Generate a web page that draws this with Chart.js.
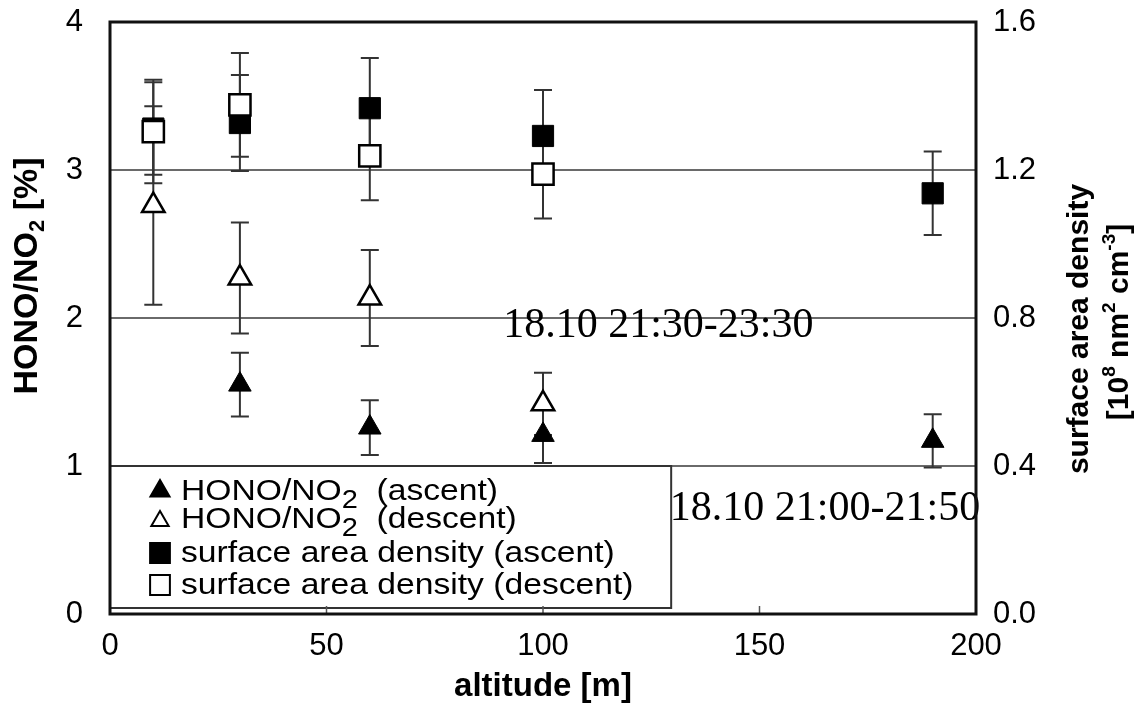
<!DOCTYPE html>
<html>
<head>
<meta charset="utf-8">
<script src="https://cdn.jsdelivr.net/npm/chart.js@4.4.0/dist/chart.umd.min.js"></script>
<style>
    body { margin: 0; background: #fff; }
    .chart-box { width: 1145px; height: 712px; }
</style>
</head>
<body>
<div class="chart-box"><canvas class="hono-chart"></canvas></div>
<script>
const altitudes = [10, 30, 60, 100, 190]

// HONO/NO2 in %, left axis
const honoAscent = [null, 1.55, 1.26, 1.21, 1.17]
const honoAscentErr = [null, 0.215, 0.185, 0.19, 0.18]
const honoDescent = [2.76, 2.27, 2.135, 1.42, null]
const honoDescentErr = [0.67, 0.375, 0.325, 0.21, null]

// surface area density in 10^8 nm2 cm-3, right axis
const surfaceAscent = [1.312, 1.327, 1.367, 1.292, 1.137]
const surfaceAscentErr = [0.125, 0.13, 0.136, 0.124, 0.113]
const surfaceDescent = [1.304, 1.376, 1.238, 1.189, null]
const surfaceDescentErr = [0.14, 0.14, 0.12, 0.12, null]

const xTicks = [0, 50, 100, 150, 200]
const leftTicks = [0, 1, 2, 3, 4]
const rightTicks = [0, 0.4, 0.8, 1.2, 1.6]

const legendLabels = [
    "HONO/NO_{2}  (ascent)",
    "HONO/NO_{2}  (descent)",
    "surface area density (ascent)",
    "surface area density (descent)"
]
const noteLabels = ["18.10 21:30-23:30", "18.10 21:00-21:50"]

const sans = "'Liberation Sans', Arial, sans-serif"
const serif = "'Liberation Serif', 'Times New Roman', serif"

function makePoints(values, errs) {
    return altitudes
        .map((x, i) => ({ x: x, y: values[i], err: errs[i] }))
        .filter(p => p.y != null)
}

// splits "a_{b}c^{d}" into drawable pieces
function toParts(str, size, weight, smallScale, subShift, supShift) {
    const parts = []
    const re = /([_^])\{([^}]*)\}/g
    let last = 0
    let m
    while ((m = re.exec(str))) {
        if (m.index > last) parts.push({ text: str.slice(last, m.index), font: `${weight} ${size}px ${sans}`, dy: 0 })
        const small = Math.round(size * smallScale)
        parts.push({ text: m[2], font: `${weight} ${small}px ${sans}`, dy: m[1] == "_" ? subShift : -supShift })
        last = re.lastIndex
    }
    if (last < str.length) parts.push({ text: str.slice(last), font: `${weight} ${size}px ${sans}`, dy: 0 })
    return parts
}

function drawRich(ctx, parts, x, y, angle, stretch, align, baseline) {
    ctx.save()
    ctx.translate(x, y)
    ctx.rotate(angle)
    ctx.scale(stretch, 1)
    ctx.fillStyle = "#000"
    ctx.textAlign = "left"
    ctx.textBaseline = baseline
    let total = 0
    parts.forEach(p => {
        ctx.font = p.font
        p.w = ctx.measureText(p.text).width
        total += p.w
    })
    let cx = align == "center" ? -total / 2 : 0
    parts.forEach(p => {
        ctx.font = p.font
        ctx.fillText(p.text, cx, p.dy)
        cx += p.w
    })
    ctx.restore()
}

const markerStyles = [
    { pointStyle: "triangle", radius: 11, fill: "#000" },
    { pointStyle: "triangle", radius: 10, fill: "#fff" },
    { pointStyle: "rect", radius: 14, fill: "#000" },
    { pointStyle: "rect", radius: 14, fill: "#fff" }
]

const errorBars = {
    id: "errorBars",
    beforeDatasetsDraw(chart) {
        const ctx = chart.ctx
        const xScale = chart.scales.x
        ctx.save()
        ctx.strokeStyle = "#333"
        ctx.lineWidth = 2
        chart.data.datasets.forEach(ds => {
            const yScale = chart.scales[ds.yAxisID]
            ds.data.forEach(p => {
                if (p.err == null) return
                const px = xScale.getPixelForValue(p.x)
                const top = yScale.getPixelForValue(p.y + p.err)
                const bottom = yScale.getPixelForValue(p.y - p.err)
                ctx.beginPath()
                ctx.moveTo(px, top)
                ctx.lineTo(px, bottom)
                ctx.moveTo(px - 9, top)
                ctx.lineTo(px + 9, top)
                ctx.moveTo(px - 9, bottom)
                ctx.lineTo(px + 9, bottom)
                ctx.stroke()
            })
        })
        ctx.restore()
    }
}

const boxLegend = {
    id: "boxLegend",
    afterDatasetsDraw(chart) {
        const ctx = chart.ctx
        const area = chart.chartArea
        const left = area.left
        const top = chart.scales.y.getPixelForValue(1)
        const right = chart.scales.x.getPixelForValue(129.6)
        const bottom = area.bottom - 6
        ctx.save()
        ctx.fillStyle = "#fff"
        ctx.fillRect(left, top, right - left, bottom - top)
        ctx.strokeStyle = "#333"
        ctx.lineWidth = 2
        ctx.strokeRect(left, top, right - left, bottom - top)

        const baselines = [top + 34, top + 62, top + 96, top + 128]
        const symbolY = [top + 25, top + 55, top + 87, top + 119]
        legendLabels.forEach((label, i) => {
            const st = markerStyles[i]
            ctx.fillStyle = st.fill
            ctx.strokeStyle = "#000"
            ctx.lineWidth = 2
            Chart.helpers.drawPoint(ctx, { pointStyle: st.pointStyle, radius: st.radius, borderWidth: 2, rotation: 0 }, left + 50, symbolY[i])
            drawRich(ctx, toParts(label, 29, "normal", 0.85, 8, 10), left + 71, baselines[i], 0, 1.16, "left", "alphabetic")
        })
        ctx.restore()
    }
}

const frameAndText = {
    id: "frameAndText",
    afterDraw(chart) {
        const ctx = chart.ctx
        const area = chart.chartArea
        const xScale = chart.scales.x
        const yScale = chart.scales.y
        ctx.save()

        // the two time notes
        const spots = [{ x: 90.8, y: 1.87 }, { x: 129.3, y: 0.635 }]
        ctx.font = `42px ${serif}`
        ctx.fillStyle = "#000"
        ctx.textAlign = "left"
        ctx.textBaseline = "alphabetic"
        noteLabels.forEach((note, i) => {
            ctx.fillText(note, xScale.getPixelForValue(spots[i].x), yScale.getPixelForValue(spots[i].y))
        })

        // small inner ticks on the bottom axis
        ctx.strokeStyle = "#555"
        ctx.lineWidth = 1.5
        xTicks.slice(1, -1).forEach(v => {
            const px = xScale.getPixelForValue(v)
            ctx.beginPath()
            ctx.moveTo(px, area.bottom)
            ctx.lineTo(px, area.bottom - 8)
            ctx.stroke()
        })

        ctx.strokeStyle = "#111"
        ctx.lineWidth = 3
        ctx.strokeRect(area.left, area.top, area.right - area.left, area.bottom - area.top)

        // axis titles with sub/superscripts
        drawRich(ctx, toParts("HONO/NO_{2} [%]", 34, "bold", 0.65, 10, 10), 28, 276, -Math.PI / 2, 1, "center", "middle")
        drawRich(ctx, toParts("surface area density", 30, "bold", 0.65, 9, 10), 1080, 329, -Math.PI / 2, 1, "center", "middle")
        drawRich(ctx, toParts("[10^{8} nm^{2} cm^{-3}]", 30, "bold", 0.62, 9, 10), 1120, 322, -Math.PI / 2, 1, "center", "middle")
        ctx.restore()
    }
}

const tickFont = { family: sans, size: 31 }

// fixed axis sizes so the plot box sits where the original one does
function fixVertical(width) {
    return axis => {
        axis.width = width
        axis.paddingTop = 0
        axis.paddingBottom = 0
    }
}

const chartEl = document.querySelector(".hono-chart")
const honoChart = new Chart(chartEl.getContext("2d"), {
    type: "scatter",
    data: {
        datasets: [
            {
                label: "surface area density (descent)",
                data: makePoints(surfaceDescent, surfaceDescentErr),
                yAxisID: "y1",
                pointStyle: "rect",
                pointRadius: 15,
                backgroundColor: "#fff",
                borderColor: "#000",
                borderWidth: 2.5
            },
            {
                label: "surface area density (ascent)",
                data: makePoints(surfaceAscent, surfaceAscentErr),
                yAxisID: "y1",
                pointStyle: "rect",
                pointRadius: 15,
                backgroundColor: "#000",
                borderColor: "#000",
                borderWidth: 1
            },
            {
                label: "HONO/NO2 (descent)",
                data: makePoints(honoDescent, honoDescentErr),
                yAxisID: "y",
                pointStyle: "triangle",
                pointRadius: 13,
                backgroundColor: "#fff",
                borderColor: "#000",
                borderWidth: 2.5
            },
            {
                label: "HONO/NO2 (ascent)",
                data: makePoints(honoAscent, honoAscentErr),
                yAxisID: "y",
                pointStyle: "triangle",
                pointRadius: 13,
                backgroundColor: "#000",
                borderColor: "#000",
                borderWidth: 1
            }
        ]
    },
    options: {
        responsive: true,
        maintainAspectRatio: false,
        animation: false,
        layout: { padding: { top: 22, left: 0, right: 0, bottom: 0 } },
        plugins: {
            legend: { display: false },
            tooltip: { enabled: false }
        },
        scales: {
            x: {
                type: "linear",
                min: 0,
                max: 200,
                afterBuildTicks: axis => { axis.ticks = xTicks.map(v => ({ value: v })) },
                afterFit: axis => {
                    axis.height = 98
                    axis.paddingLeft = 0
                    axis.paddingRight = 0
                },
                grid: { display: false, drawTicks: false },
                border: { display: false },
                ticks: { font: tickFont, color: "#000", padding: 14, maxRotation: 0 },
                title: {
                    display: true,
                    text: "altitude [m]",
                    color: "#000",
                    font: { family: sans, size: 33, weight: "bold" },
                    padding: { top: 0, bottom: 5 }
                }
            },
            y: {
                position: "left",
                min: 0,
                max: 4,
                afterBuildTicks: axis => { axis.ticks = leftTicks.map(v => ({ value: v })) },
                afterFit: fixVertical(110),
                grid: {
                    drawTicks: false,
                    lineWidth: 2,
                    color: ctx => (ctx.tick && ctx.tick.value > 0 && ctx.tick.value < 4) ? "#6a6a6a" : "rgba(0,0,0,0)"
                },
                border: { display: false },
                ticks: { font: tickFont, color: "#000", padding: 27 }
            },
            y1: {
                position: "right",
                min: 0,
                max: 1.6,
                afterBuildTicks: axis => { axis.ticks = rightTicks.map(v => ({ value: v })) },
                afterFit: fixVertical(169),
                grid: { display: false, drawTicks: false },
                border: { display: false },
                ticks: { font: tickFont, color: "#000", padding: 17, callback: v => v.toFixed(1) }
            }
        }
    },
    plugins: [errorBars, boxLegend, frameAndText]
})
</script>
</body>
</html>
